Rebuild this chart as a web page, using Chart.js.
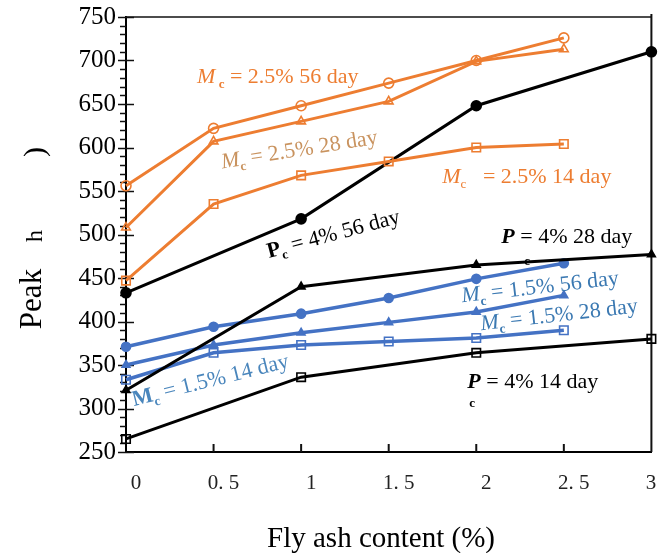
<!DOCTYPE html>
<html>
<head>
<meta charset="utf-8">
<script src="https://cdn.jsdelivr.net/npm/chart.js@4.4.1/dist/chart.umd.min.js"></script>
<style>
  html, body { margin: 0; padding: 0; background: #fff; }
  #wrap { width: 659px; height: 553px; }
</style>
</head>
<body>
<div id="wrap"><canvas id="chart" width="659" height="553"></canvas></div>
<script>
// fly ash content (%)
const xFull = [0, 0.5, 1, 1.5, 2, 2.5];
const xBlack = [0, 1, 2, 3];

// Mc = 2.5%
const orange56 = [556, 622, 648, 674, 700, 726];
const orange28 = [508, 607, 630, 653, 699, 713];
const orange14 = [447, 535, 568, 584, 600, 604];

// Pc = 4%
const black56 = [433, 518, 648, 710];
const black28 = [321, 440, 465, 477];
const black14 = [265, 336, 364, 380];

// Mc = 1.5%
const blue56 = [371, 394, 409, 427, 449, 467];
const blue28 = [350, 373, 387, 399, 411, 430];
const blue14 = [333, 364, 373, 377, 381, 390];

const yMin = 250, yMax = 750, yStep = 50, yMinor = 10;
const xMin = 0, xMax = 3, xStep = 0.5;

const ORANGE = '#ed7d31';
const TAN = '#c9935f';
const BLUE = '#4472c4';
const BLUE_TXT = '#3b79b2';
const SERIF = '"Liberation Serif", "Times New Roman", serif';

function pts(xs, ys) {
    return ys.map((v, i) => ({ x: xs[i], y: v }));
}

function series(label, xs, ys, color, style, filled, radius, width) {
    return {
        label: label,
        data: pts(xs, ys),
        borderColor: color,
        backgroundColor: color,
        borderWidth: width,
        showLine: true,
        tension: 0,
        pointStyle: style,
        pointRadius: radius,
        pointBorderWidth: 1.6,
        pointBackgroundColor: filled ? color : 'rgba(0,0,0,0)',
        pointBorderColor: color,
        clip: false
    };
}

// text annotations, anchored in data units (baseline-left)
const notes = [
    { x: 0.406, y: 674, a: 0, c: ORANGE, parts: [['M', 'italic 22px'], [' c', 'bold 13px', 5], [' = 2.5% 56 day', '22px']] },
    { x: 0.549, y: 576, a: -9, c: TAN, parts: [['M', 'italic 22px'], ['c', 'bold 13px', 5], [' = 2.5% 28 day', '22px']] },
    { x: 1.806, y: 559, a: 0, c: ORANGE, parts: [['M', 'italic 22px'], ['c', '13px', 5], ['   = 2.5% 14 day', '22px']] },
    { x: 0.817, y: 473, a: -15, c: '#000', parts: [['P', 'bold 22px'], ['c', 'bold 13px', 5], [' = 4% 56 day', '22px']] },
    { x: 2.143, y: 490, a: 0, c: '#000', parts: [['P', 'bold italic 22px'], [' = 4% 28 day', '22px']] },
    { x: 2.274, y: 465, a: 0, c: '#000', parts: [['c', 'bold 13px']] },
    { x: 1.92, y: 422, a: -6.5, c: BLUE_TXT, parts: [['M', 'italic 22px'], ['c', 'bold 13px', 5], [' = 1.5% 56 day', '22px']] },
    { x: 2.029, y: 390, a: -6.5, c: BLUE_TXT, parts: [['M', 'italic 22px'], ['c', 'bold 13px', 5], [' = 1.5% 28 day', '22px']] },
    { x: 0.046, y: 303, a: -14, c: '#4a86bc', parts: [['M', 'bold 22px'], ['c', 'bold 13px', 5], [' = 1.5% 14 day', '22px']] },
    { x: 1.949, y: 324, a: 0, c: '#000', parts: [['P', 'bold italic 22px'], [' = 4% 14 day', '22px']] },
    { x: 1.96, y: 302, a: 0, c: '#000', parts: [['c', 'bold 13px']] }
];

function drawParts(ctx, px, py, deg, color, parts) {
    ctx.save();
    ctx.translate(px, py);
    ctx.rotate(deg * Math.PI / 180);
    ctx.fillStyle = color;
    ctx.textBaseline = 'alphabetic';
    ctx.textAlign = 'left';
    let cx = 0;
    parts.forEach(([t, f, dy]) => {
        ctx.font = f + ' ' + SERIF;
        ctx.fillText(t, cx, dy || 0);
        cx += ctx.measureText(t).width;
    });
    ctx.restore();
}

// frame + tick marks (drawn under the data)
const framePlugin = {
    id: 'frame',
    beforeDatasetsDraw(chart) {
        const { ctx, chartArea: a, scales: { x, y } } = chart;
        ctx.save();
        ctx.strokeStyle = '#111';
        // top + right border
        ctx.lineWidth = 1.5;
        ctx.beginPath();
        ctx.moveTo(a.left, a.top);
        ctx.lineTo(a.right, a.top);
        ctx.stroke();
        ctx.lineWidth = 2;
        ctx.beginPath();
        ctx.moveTo(a.right, a.top - 3);
        ctx.lineTo(a.right, a.bottom);
        ctx.stroke();
        // y ticks: major ones cross the axis, minor ones sit outside
        ctx.lineWidth = 1.5;
        for (let v = yMin; v <= yMax; v += yMinor) {
            const py = Math.round(y.getPixelForValue(v)) + 0.5;
            ctx.beginPath();
            if (v % yStep === 0) {
                ctx.moveTo(a.left - 8, py);
                ctx.lineTo(a.left + 8, py);
            } else {
                ctx.moveTo(a.left - 6, py);
                ctx.lineTo(a.left, py);
            }
            ctx.stroke();
        }
        // x ticks pointing inward
        ctx.lineWidth = 2;
        for (let v = xMin + xStep; v < xMax; v += xStep) {
            const px = x.getPixelForValue(v);
            ctx.beginPath();
            ctx.moveTo(px, a.bottom);
            ctx.lineTo(px, a.bottom - 8);
            ctx.stroke();
        }
        ctx.restore();
    },
    afterDatasetsDraw(chart) {
        const { ctx, scales: { x, y } } = chart;
        notes.forEach(n => {
            drawParts(ctx, x.getPixelForValue(n.x), y.getPixelForValue(n.y), n.a, n.c, n.parts);
        });

        // axis titles
        ctx.save();
        ctx.fillStyle = '#000';
        ctx.textAlign = 'center';
        ctx.font = '29px ' + SERIF;
        ctx.textBaseline = 'alphabetic';
        ctx.fillText('Fly ash content (%)', 381, 547);

        ctx.textBaseline = 'middle';
        const rot = (t, px, py, size) => {
            ctx.save();
            ctx.translate(px, py);
            ctx.rotate(-Math.PI / 2);
            ctx.font = size + 'px ' + SERIF;
            ctx.fillText(t, 0, 0);
            ctx.restore();
        };
        rot('Peak', 33, 299, 31);
        rot('h', 36, 236, 24);
        rot(')', 36, 152, 30);
        ctx.restore();
    }
};

// x labels look like "0. 5"; the last one hugs the right edge
function xLabel(v) {
    if (v === xMax) return String(v) + '\u2002\u2002';
    return v % 1 ? v.toFixed(1).replace('.', '. ') : String(v);
}

new Chart(document.getElementById('chart'), {
    type: 'scatter',
    data: {
        datasets: [
            series('Mc 2.5% 56 day', xFull, orange56, ORANGE, 'circle', false, 5, 3),
            series('Mc 2.5% 28 day', xFull, orange28, ORANGE, 'triangle', false, 5, 3),
            series('Mc 2.5% 14 day', xFull, orange14, ORANGE, 'rect', false, 6, 3),
            series('Pc 4% 56 day', xBlack, black56, '#000', 'circle', true, 5, 3),
            series('Pc 4% 28 day', xBlack, black28, '#000', 'triangle', true, 4.5, 3),
            series('Pc 4% 14 day', xBlack, black14, '#000', 'rect', false, 6, 3),
            series('Mc 1.5% 56 day', xFull, blue56, BLUE, 'circle', true, 4.5, 3.5),
            series('Mc 1.5% 28 day', xFull, blue28, BLUE, 'triangle', true, 4.5, 3.5),
            series('Mc 1.5% 14 day', xFull, blue14, BLUE, 'rect', false, 6, 3.5)
        ]
    },
    options: {
        responsive: false,
        animation: false,
        layout: { padding: { top: 17, right: 7, left: 0, bottom: 0 } },
        plugins: {
            legend: { display: false },
            tooltip: { enabled: false }
        },
        scales: {
            x: {
                type: 'linear',
                min: xMin,
                max: xMax,
                afterFit: s => { s.height = 101; s.paddingLeft = 0; s.paddingRight = 0; },
                border: { display: true, color: '#000', width: 2 },
                grid: { drawOnChartArea: false, drawTicks: false },
                ticks: {
                    stepSize: xStep,
                    padding: 19,
                    labelOffset: 10,
                    color: '#222',
                    font: { family: SERIF, size: 21 },
                    callback: xLabel
                }
            },
            y: {
                min: yMin,
                max: yMax,
                afterFit: s => { s.width = 126; s.paddingTop = 0; s.paddingBottom = 0; },
                border: { display: true, color: '#000', width: 2 },
                grid: { drawOnChartArea: false, drawTicks: false },
                ticks: {
                    stepSize: yStep,
                    padding: 10,
                    color: '#000',
                    font: { family: SERIF, size: 25 }
                }
            }
        }
    },
    plugins: [framePlugin]
});
</script>
</body>
</html>
